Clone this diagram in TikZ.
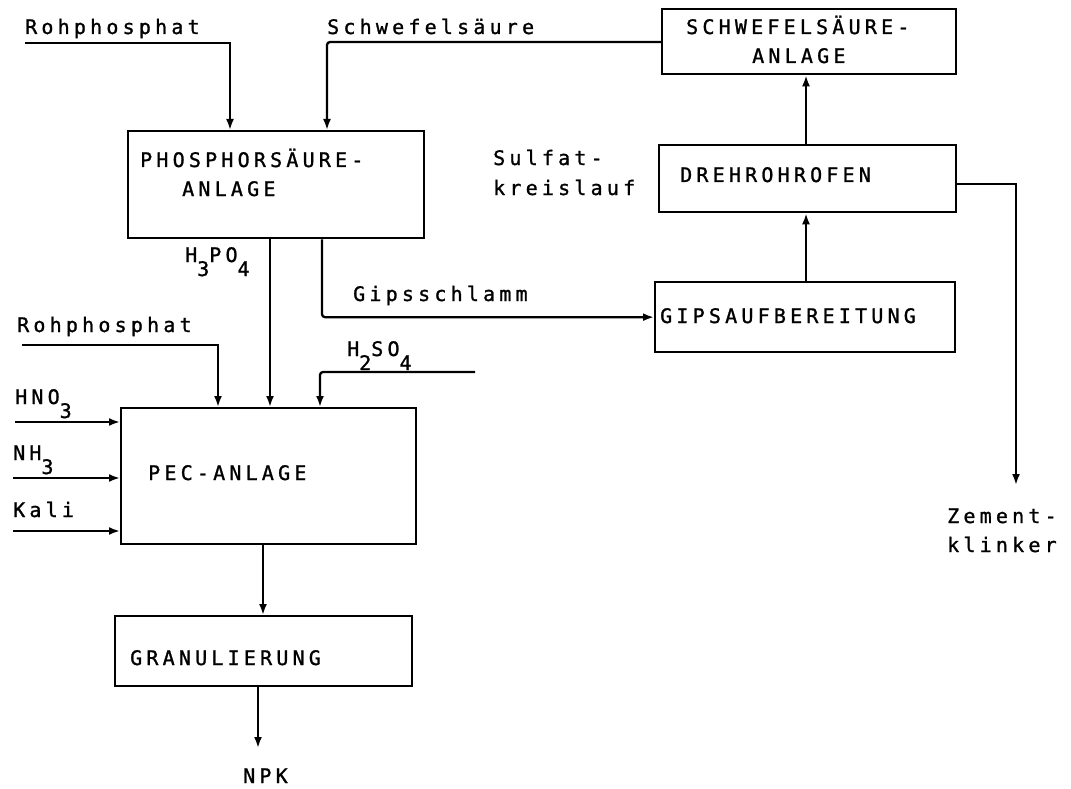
\documentclass[tikz,border=0pt]{standalone}
\usepackage{fontspec}
\newfontfamily\lbf[LetterSpace=21,FakeBold=1.2]{DejaVu Sans Mono}
\usetikzlibrary{arrows.meta}
\newcommand\sbs[1]{\raisebox{-14pt}{#1}}
\begin{document}
\begin{tikzpicture}[x=1pt,y=-1pt,
  box/.style={draw,line width=2.3pt,anchor=north west,inner sep=0pt},
  lbl/.style={anchor=base west,inner sep=0pt,font=\fontsize{20}{24}\lbf},
  flow/.style={line width=2.3pt,-{Latex[length=11pt,width=8pt]}},
  wire/.style={line width=2.3pt}
]
\useasboundingbox (0,0) rectangle (1071,789);

% boxes
\node[box,minimum width=296pt,minimum height=107pt] (phos) at (127,130) {};
\node[box,minimum width=294pt,minimum height=65pt]  (schw) at (661,8) {};
\node[box,minimum width=297pt,minimum height=67pt]  (dreh) at (658,144) {};
\node[box,minimum width=300pt,minimum height=70pt]  (gips) at (654,281) {};
\node[box,minimum width=295pt,minimum height=136pt] (pec)  at (120,407) {};
\node[box,minimum width=297pt,minimum height=70pt]  (gran) at (114,615) {};

% texts
\node[lbl] (tR1) at (25,34) {Rohphosphat};
\node[lbl] (tS) at (327,34) {Schwefelsäure};
\node[lbl] (tPh1) at (140,167) {PHOSPHORSÄURE-};
\node[lbl] (tPh2) at (182,196) {ANLAGE};
\node[lbl] (tH3) at (185,262) {H\sbs{3}PO\sbs{4}};
\node[lbl] (tSw1) at (686,34) {SCHWEFELSÄURE-};
\node[lbl] (tSw2) at (752,63) {ANLAGE};
\node[lbl] (tSu1) at (493,165) {Sulfat-};
\node[lbl] (tSu2) at (493,195) {kreislauf};
\node[lbl] (tD) at (680,182) {DREHROHROFEN};
\node[lbl] (tGs) at (353,301) {Gipsschlamm};
\node[lbl] (tGa) at (660,323) {GIPSAUFBEREITUNG};
\node[lbl] (tH2) at (347,356) {H\sbs{2}SO\sbs{4}};
\node[lbl] (tR2) at (17,332) {Rohphosphat};
\node[lbl] (tHN) at (15,404) {HNO\sbs{3}};
\node[lbl] (tNH) at (13,460) {NH\sbs{3}};
\node[lbl] (tK) at (13,517) {Kali};
\node[lbl] (tPEC) at (148,480) {PEC-ANLAGE};
\node[lbl] (tGr) at (130,665) {GRANULIERUNG};
\node[lbl] (tN) at (243,783) {NPK};
\node[lbl] (tZ1) at (947,523) {Zement-};
\node[lbl] (tZ2) at (947,552) {klinker};

% helper coordinates
\coordinate (cR1) at (25,43);
\coordinate (xR1) at (230,0);
\coordinate (xS) at (327,0);
\coordinate (yS) at (0,42);
\coordinate (xH) at (270,0);
\coordinate (xG) at (322,0);
\coordinate (cR2) at (22,345);
\coordinate (xR2) at (218,0);
\coordinate (cH2) at (475,372);
\coordinate (xH2) at (320,0);
\coordinate (cHNO) at (15,422);
\coordinate (cNH) at (13,478);
\coordinate (cK) at (13,531);
\coordinate (xP) at (263,0);
\coordinate (cNPK) at (258,748);
\coordinate (xD) at (806,0);
\coordinate (yZ) at (0,184);
\coordinate (cZ) at (1016,485);

% connectors
\draw[flow] (cR1) -| (phos.north -| xR1);
\draw[flow,rounded corners=3pt] (schw.west |- yS) -| (phos.north -| xS);
\draw[flow] (phos.south -| xH) -- (pec.north -| xH);
\draw[flow,rounded corners=3pt] (phos.south -| xG) |- (gips.west);
\draw[flow] (cR2) -| (pec.north -| xR2);
\draw[flow,rounded corners=3pt] (cH2) -| (pec.north -| xH2);
\draw[flow] (cHNO) -- (cHNO -| pec.west);
\draw[flow] (cNH) -- (cNH -| pec.west);
\draw[flow] (cK) -- (cK -| pec.west);
\draw[flow] (pec.south -| xP) -- (gran.north -| xP);
\draw[flow] (gran.south -| cNPK) -- (cNPK);
\draw[flow] (gips.north -| xD) -- (dreh.south -| xD);
\draw[flow] (dreh.north -| xD) -- (schw.south -| xD);
\draw[flow] (dreh.east |- yZ) -| (cZ);
\end{tikzpicture}
\end{document}
